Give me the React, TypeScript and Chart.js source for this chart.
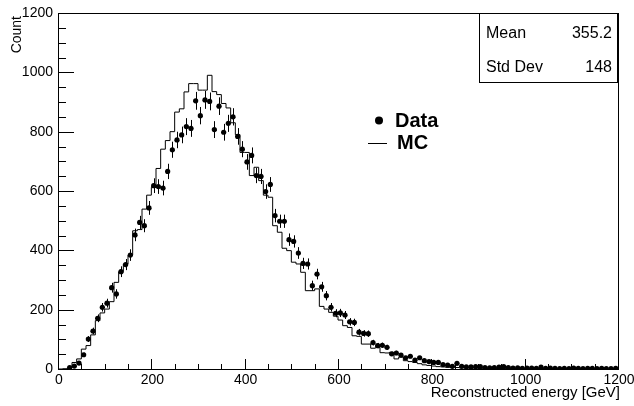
import React, { useEffect, useRef } from "react";
import { Chart, registerables } from "chart.js";

Chart.register(...registerables);

// ---------- data ----------
const binWidth = 10;
const xRange = [0, 1200];
const yRange = [0, 1200];
const xTickValues = [0, 200, 400, 600, 800, 1000, 1200];
const yTickValues = [0, 200, 400, 600, 800, 1000, 1200];

// Data counts per 10 GeV bin (0-1200)
const dataCounts = [
  0, 0, 5, 10, 20, 48, 101, 128, 171, 208,
  222, 274, 253, 328, 352, 384, 452, 494, 483, 543,
  618, 615, 610, 666, 739, 772, 789, 817, 811, 904,
  854, 907, 902, 807, 886, 798, 828, 850, 784, 741,
  698, 720, 652, 649, 598, 622, 517, 498, 498, 436,
  430, 391, 356, 354, 281, 320, 277, 247, 208, 188,
  189, 182, 159, 157, 124, 120, 119, 89, 79, 80,
  73, 51, 54, 47, 38, 43, 30, 38, 28, 25,
  22, 22, 15, 13, 9, 19, 9, 7, 7, 8,
  8, 5, 4, 5, 6, 8, 5, 3, 4, 2,
  3, 3, 2, 6, 2, 3, 2, 1, 2, 1,
  3, 2, 1, 2, 2, 1, 2, 1, 1, 2,
];

// MC counts per 10 GeV bin (0-1200)
const mcCounts = [
  0, 0, 1, 4, 22, 34, 67, 79, 115, 163,
  189, 202, 227, 292, 328, 354, 384, 466, 470, 539,
  586, 612, 676, 741, 770, 800, 866, 877, 934, 962,
  962, 940, 940, 990, 935, 925, 895, 880, 830, 790,
  730, 730, 652, 680, 635, 586, 579, 483, 461, 407,
  399, 360, 354, 326, 264, 264, 270, 211, 202, 191,
  178, 165, 146, 140, 112, 110, 84, 84, 70, 72,
  55, 54, 56, 34, 40, 28, 25, 22, 18, 14,
  12, 10, 8, 7, 6, 5, 5, 4, 4, 3,
  3, 3, 2, 2, 2, 2, 2, 2, 1, 2,
  1, 1, 1, 1, 1, 1, 1, 1, 1, 0,
  1, 1, 0, 1, 0, 1, 0, 0, 0, 0,
];

const legendLabels = ["Data", "MC"];
const statsLabels = ["Mean", "Std Dev"];
const statsValues = ["355.2", "148"];
const xTitle = "Reconstructed energy [GeV]";
const yTitle = "Count";

// ---------- style ----------
const FONT = '"Liberation Sans", Arial, Helvetica, sans-serif';
const X_MINOR_DIV = 4;
const Y_MINOR_DIV = 4;

const rootPlugin = {
  id: "rootDecor",
  beforeDatasetsDraw(chart: any) {
    const ctx = chart.ctx;
    const xs = chart.scales.x;
    const ys = chart.scales.y;
    const meta = chart.getDatasetMeta(0);
    ctx.save();
    ctx.strokeStyle = "#000";
    ctx.lineWidth = 1;
    ctx.beginPath();
    meta.data.forEach((pt: any, i: number) => {
      const n = dataCounts[i];
      if (n <= 0) return;
      const err = Math.sqrt(n);
      const cx = Math.round(pt.x) + 0.5;
      const cy = Math.round(pt.y) + 0.5;
      const lo = ys.getPixelForValue(n - err);
      const hi = ys.getPixelForValue(n + err);
      ctx.moveTo(cx, lo);
      ctx.lineTo(cx, hi);
      const c = xs.getValueForPixel(pt.x);
      const x0 = xs.getPixelForValue(c - binWidth / 2);
      const x1 = xs.getPixelForValue(c + binWidth / 2);
      ctx.moveTo(x0, cy);
      ctx.lineTo(x1, cy);
    });
    ctx.stroke();
    ctx.restore();
  },
  afterDraw(chart: any) {
    const ctx = chart.ctx;
    const xs = chart.scales.x;
    const ys = chart.scales.y;
    const { left, right, top, bottom } = chart.chartArea;
    ctx.save();
    ctx.strokeStyle = "#000";
    ctx.lineWidth = 1;
    // frame
    ctx.strokeRect(Math.round(left) + 0.5, Math.round(top) + 0.5, Math.round(right - left), Math.round(bottom - top));
    // ticks
    ctx.beginPath();
    for (let k = 0; k < xTickValues.length; k++) {
      const v = xTickValues[k];
      const px = Math.round(xs.getPixelForValue(v)) + 0.5;
      ctx.moveTo(px, bottom);
      ctx.lineTo(px, bottom - 10);
      if (k < xTickValues.length - 1) {
        const step = (xTickValues[k + 1] - v) / X_MINOR_DIV;
        for (let m = 1; m < X_MINOR_DIV; m++) {
          const mx = Math.round(xs.getPixelForValue(v + m * step)) + 0.5;
          ctx.moveTo(mx, bottom);
          ctx.lineTo(mx, bottom - 5);
        }
      }
    }
    for (let k = 0; k < yTickValues.length; k++) {
      const v = yTickValues[k];
      const py = Math.round(ys.getPixelForValue(v)) + 0.5;
      ctx.moveTo(left, py);
      ctx.lineTo(left + 16, py);
      if (k < yTickValues.length - 1) {
        const step = (yTickValues[k + 1] - v) / Y_MINOR_DIV;
        for (let m = 1; m < Y_MINOR_DIV; m++) {
          const my = Math.round(ys.getPixelForValue(v + m * step)) + 0.5;
          ctx.moveTo(left, my);
          ctx.lineTo(left + 8, my);
        }
      }
    }
    ctx.stroke();

    ctx.fillStyle = "#000";
    // tick labels
    ctx.font = `14px ${FONT}`;
    ctx.textBaseline = "middle";
    ctx.textAlign = "center";
    xTickValues.forEach((v) => {
      ctx.fillText(String(v), xs.getPixelForValue(v) + 1, bottom + 11);
    });
    ctx.textAlign = "right";
    yTickValues.forEach((v) => {
      ctx.fillText(String(v), left - 5, ys.getPixelForValue(v));
    });

    // axis titles
    ctx.font = `15px ${FONT}`;
    ctx.textAlign = "right";
    ctx.textBaseline = "middle";
    ctx.fillText(xTitle, 620, 393);
    ctx.save();
    ctx.translate(17, 16);
    ctx.rotate(-Math.PI / 2);
    ctx.textAlign = "right";
    ctx.font = `14px ${FONT}`;
    ctx.fillText(yTitle, 0, 0);
    ctx.restore();

    // legend
    ctx.beginPath();
    ctx.arc(379, 120.5, 4, 0, Math.PI * 2);
    ctx.fill();
    ctx.beginPath();
    ctx.moveTo(368, 143.5);
    ctx.lineTo(387, 143.5);
    ctx.stroke();
    ctx.font = `bold 20px ${FONT}`;
    ctx.textAlign = "left";
    ctx.textBaseline = "middle";
    ctx.fillText(legendLabels[0], 395, 121);
    ctx.fillText(legendLabels[1], 397, 143);

    // stats box
    const bx0 = 479, by0 = 13, bx1 = 617, by1 = 82;
    ctx.fillStyle = "#fff";
    ctx.fillRect(bx0, by0, bx1 - bx0, by1 - by0);
    ctx.strokeRect(bx0 + 0.5, by0 + 0.5, bx1 - bx0, by1 - by0);
    ctx.fillStyle = "#000";
    ctx.font = `16px ${FONT}`;
    ctx.textBaseline = "alphabetic";
    const rows = [38, 72];
    statsLabels.forEach((lab, i) => {
      ctx.textAlign = "left";
      ctx.fillText(lab, 486, rows[i]);
      ctx.textAlign = "right";
      ctx.fillText(statsValues[i], 612, rows[i]);
    });
    ctx.restore();
  },
};

export default function App() {
  const ref = useRef<HTMLCanvasElement>(null);
  useEffect(() => {
    const canvas = ref.current;
    if (!canvas) return;
    const dataPoints = dataCounts.map((n, i) => ({ x: xRange[0] + (i + 0.5) * binWidth, y: n }));
    const mcPoints = mcCounts.map((n, i) => ({ x: xRange[0] + i * binWidth, y: n }));
    mcPoints.push({ x: xRange[0] + mcCounts.length * binWidth, y: mcCounts[mcCounts.length - 1] });

    const chart = new Chart(canvas, {
      type: "line",
      data: {
        datasets: [
          {
            type: "scatter",
            label: legendLabels[0],
            data: dataPoints,
            showLine: false,
            pointRadius: dataCounts.map((n) => (n > 0 ? 2.6 : 0)),
            pointBackgroundColor: "#000",
            pointBorderWidth: 0,
            pointStyle: "circle",
          } as any,
          {
            type: "line",
            label: legendLabels[1],
            data: mcPoints,
            stepped: "after",
            borderColor: "#000",
            borderWidth: 1,
            pointRadius: 0,
            fill: false,
          } as any,
        ],
      },
      options: {
        responsive: false,
        animation: false,
        devicePixelRatio: 1,
        layout: { padding: { left: 0, right: 16, top: 13, bottom: 0 } },
        plugins: { legend: { display: false }, tooltip: { enabled: false } },
        scales: {
          x: {
            type: "linear",
            min: xRange[0],
            max: xRange[1],
            grid: { display: false, drawTicks: false },
            border: { display: false },
            afterFit: (s: any) => {
              s.height = 37;
            },
            ticks: { display: false },
          },
          y: {
            type: "linear",
            min: yRange[0],
            max: yRange[1],
            grid: { display: false, drawTicks: false },
            border: { display: false },
            afterFit: (s: any) => {
              s.width = 58;
            },
            ticks: { display: false },
          },
        },
      },
      plugins: [rootPlugin],
    });
    return () => chart.destroy();
  }, []);

  return (
    <div style={{ position: "absolute", left: 0, top: 0, width: 634, height: 406, background: "#fff" }}>
      <canvas ref={ref} width={634} height={406} style={{ display: "block", width: 634, height: 406 }} />
    </div>
  );
}
